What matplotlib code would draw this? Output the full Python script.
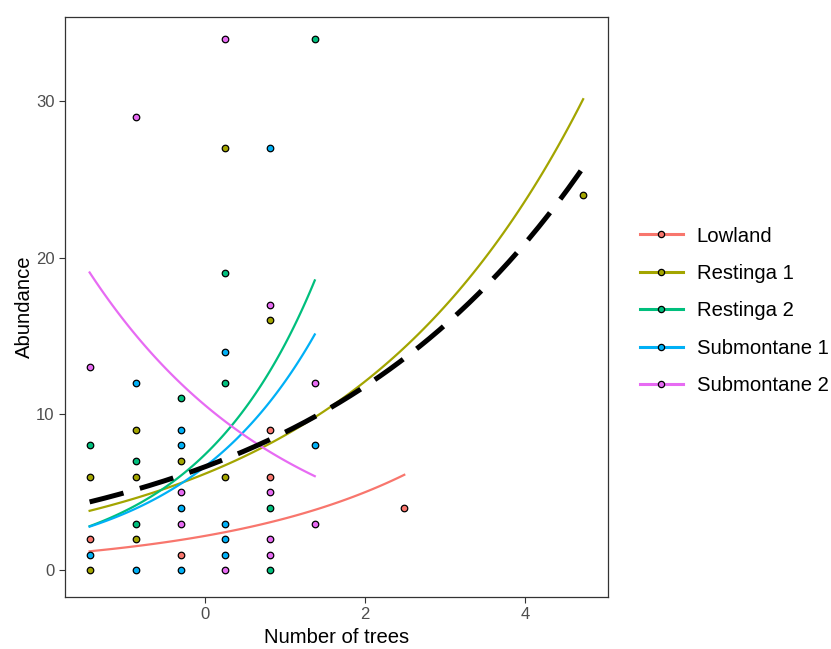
import numpy as np
import matplotlib
matplotlib.use('Agg')
import matplotlib.pyplot as plt
from matplotlib.lines import Line2D

plt.rcParams['font.family'] = ['Liberation Sans', 'DejaVu Sans']

sites = ['Lowland', 'Restinga 1', 'Restinga 2', 'Submontane 1', 'Submontane 2']
colours = ['#F8766D', '#A3A500', '#00BF7D', '#00B0F6', '#E76BF3']

# Observed abundance per plot (standardised number of trees, abundance)
lowland_x = [-1.433, -0.299, 0.814, 0.814, 2.49]
lowland_y = [2, 1, 9, 6, 4]
restinga1_x = [-1.433, -1.433, -0.86, -0.86, -0.86, -0.299, 0.253, 0.253, 0.814, 4.72]
restinga1_y = [6, 0, 9, 6, 2, 7, 27, 6, 16, 24]
restinga2_x = [-1.433, -0.86, -0.86, -0.299, 0.253, 0.253, 0.814, 0.814, 1.374]
restinga2_y = [8, 7, 3, 11, 19, 12, 4, 0, 34]
submontane1_x = [-1.433, -0.86, -0.86, -0.299, -0.299, -0.299, -0.299,
                 0.253, 0.253, 0.253, 0.253, 0.814, 1.374]
submontane1_y = [1, 12, 0, 9, 8, 4, 0, 14, 3, 2, 1, 27, 8]
submontane2_x = [-1.433, -0.86, -0.299, -0.299, 0.253, 0.253, 0.814, 0.814,
                 0.814, 0.814, 1.374, 1.374]
submontane2_y = [13, 29, 5, 3, 34, 0, 17, 5, 2, 1, 12, 3]

points_x = [lowland_x, restinga1_x, restinga2_x, submontane1_x, submontane2_x]
points_y = [lowland_y, restinga1_y, restinga2_y, submontane1_y, submontane2_y]

# Poisson GLM fits per site: log(mu) = intercept + slope * trees
fit_intercept = [0.79, 1.82, 2.00, 1.89, 2.36]
fit_slope = [0.41, 0.336, 0.67, 0.60, -0.41]

# Pooled fit over all sites
pooled_intercept = 1.89
pooled_slope = 0.288

fig = plt.figure(figsize=(8.31, 6.49), dpi=100)
ax = fig.add_axes([65 / 831, 1 - 597 / 649, 543 / 831, 580 / 649])

for xs, ys, a, b, col in zip(points_x, points_y, fit_intercept, fit_slope, colours):
    grid = np.linspace(min(xs), max(xs), 100)
    ax.plot(grid, np.exp(a + b * grid), color=col, lw=1.6, zorder=2)

all_x = np.concatenate([np.array(v, float) for v in points_x])
grid = np.linspace(all_x.min(), all_x.max(), 200)
ax.plot(grid, np.exp(pooled_intercept + pooled_slope * grid), color='black',
        lw=3.6, dashes=(7.0, 3.4), zorder=3)

for xs, ys, col in zip(points_x, points_y, colours):
    ax.scatter(xs, ys, s=22, c=col, edgecolors='black', linewidths=0.9, zorder=4)

ax.set_xlim(-1.74, 5.03)
ax.set_ylim(-1.7, 35.4)
ax.set_xticks([0, 2, 4])
ax.set_yticks([0, 10, 20, 30])
ax.tick_params(axis='both', colors='#333333', labelcolor='#4D4D4D',
               labelsize=12, length=4, width=0.8)
for side in ax.spines.values():
    side.set_color('#333333')
    side.set_linewidth(0.9)
ax.set_xlabel('Number of trees', fontsize=14.6, labelpad=4)
ax.set_ylabel('Abundance', fontsize=14.6, labelpad=1.5)

handles = [Line2D([0], [0], color=c, lw=2.2, marker='o', markersize=4.5,
                  markerfacecolor=c, markeredgecolor='black', markeredgewidth=0.9)
           for c in colours]
fig.legend(handles, sites, loc='center left', bbox_to_anchor=(640 / 831, 1 - 311 / 649),
           frameon=False, fontsize=14.6, handlelength=2.1, handletextpad=0.7,
           labelspacing=0.91, borderpad=0, borderaxespad=0)

fig.savefig('out.png', dpi=100)
